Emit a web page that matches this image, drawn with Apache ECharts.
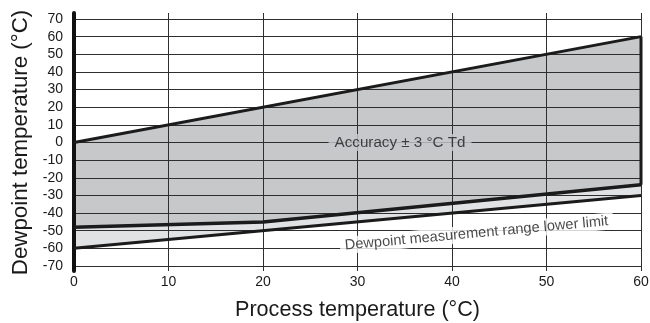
<!DOCTYPE html>
<html>
<head>
<meta charset="utf-8">
<script src="https://cdn.jsdelivr.net/npm/echarts@6/dist/echarts.min.js"></script>
<style>
  html, body { margin: 0; padding: 0; background: #fff; }
  #chart { width: 650px; height: 323px; }
</style>
</head>
<body>
<div id="chart"></div>
<script>
  // chart data (process temp °C, dewpoint °C)
  const xTicks = [0, 10, 20, 30, 40, 50, 60]
  const yTicks = [-70, -60, -50, -40, -30, -20, -10, 0, 10, 20, 30, 40, 50, 60, 70]
  const upperLine = [[0, 0], [60, 60]]
  const accuracyLower = [[0, -48], [20, -45], [60, -24]]
  const rangeLimit = [[0, -60], [60, -30]]
  const accuracyText = 'Accuracy ± 3 °C Td'
  const limitText = 'Dewpoint measurement range lower limit'

  const FONT = '"Liberation Sans", Arial, Helvetica, sans-serif'
  const LINE = '#1b1b1b'
  const GRID_LINE = '#2e2e2e'

  let myChart = echarts.init(document.getElementById('chart'), null, { renderer: 'canvas' })

  // filled band between two polylines
  function band(top, bottom, color) {
    return function(params, api) {
      let pts = top.concat(bottom.slice().reverse()).map(p => api.coord(p))
      return { type: 'polygon', shape: { points: pts }, style: { fill: color } }
    }
  }

  let option = {
    animation: false,
    backgroundColor: '#fff',
    textStyle: { fontFamily: FONT },
    grid: [
      // outer grid, only for the vertical lines that stick out a bit
      { left: 74, right: 9, top: 13, bottom: 52, outerBoundsMode: 'none' },
      { left: 74, right: 9, top: 19, bottom: 57, outerBoundsMode: 'none' }
    ],
    xAxis: [
      {
        gridIndex: 0, type: 'value', min: 0, max: 60, interval: 10, z: 3,
        axisLine: { show: false }, axisTick: { show: false }, axisLabel: { show: false },
        splitLine: { show: true, lineStyle: { color: GRID_LINE, width: 1 } }
      },
      {
        gridIndex: 1, type: 'value', min: xTicks[0], max: xTicks[xTicks.length - 1], interval: 10, z: 3,
        name: 'Process temperature (°C)',
        nameLocation: 'middle',
        nameGap: 33,
        nameTextStyle: { fontSize: 21.6, color: '#1a1a1a', fontFamily: FONT },
        axisLine: { show: false }, axisTick: { show: false },
        axisLabel: { fontSize: 14, color: '#1a1a1a', margin: 9, fontFamily: FONT },
        splitLine: { show: false }
      }
    ],
    yAxis: [
      {
        gridIndex: 0, type: 'value', min: 0, max: 1, z: 4,
        axisLine: { show: true, lineStyle: { color: '#111', width: 4 } },
        axisTick: { show: false }, axisLabel: { show: false }, splitLine: { show: false }
      },
      {
        gridIndex: 1, type: 'value', min: yTicks[0], max: yTicks[yTicks.length - 1], interval: 10, z: 3,
        name: 'Dewpoint temperature (°C)',
        nameLocation: 'middle',
        nameRotate: 90,
        nameGap: 41,
        nameTextStyle: { fontSize: 22.3, color: '#1a1a1a', fontFamily: FONT },
        axisLine: { show: false }, axisTick: { show: false },
        axisLabel: { fontSize: 14, color: '#1a1a1a', margin: 11, fontFamily: FONT },
        splitLine: { show: true, lineStyle: { color: GRID_LINE, width: 1 } }
      }
    ],
    series: [
      {
        type: 'custom', xAxisIndex: 1, yAxisIndex: 1, z: 1, silent: true,
        data: [[0, 0]],
        renderItem: band(upperLine, accuracyLower, '#c7c8ca')
      },
      {
        type: 'custom', xAxisIndex: 1, yAxisIndex: 1, z: 1, silent: true,
        data: [[0, 0]],
        renderItem: band(accuracyLower, rangeLimit, '#e1e2e4')
      },
      {
        type: 'line', xAxisIndex: 1, yAxisIndex: 1, z: 5, symbol: 'none',
        data: upperLine, lineStyle: { color: LINE, width: 3 }
      },
      {
        type: 'line', xAxisIndex: 1, yAxisIndex: 1, z: 5, symbol: 'none',
        data: accuracyLower, lineStyle: { color: LINE, width: 3.5 }
      },
      {
        type: 'line', xAxisIndex: 1, yAxisIndex: 1, z: 5, symbol: 'none',
        data: rangeLimit, lineStyle: { color: LINE, width: 3 }
      },
      {
        // right edge of the accuracy band
        type: 'line', xAxisIndex: 1, yAxisIndex: 1, z: 5, symbol: 'none',
        data: [upperLine[upperLine.length - 1], accuracyLower[accuracyLower.length - 1]],
        lineStyle: { color: LINE, width: 3 }
      },
      {
        type: 'scatter', xAxisIndex: 1, yAxisIndex: 1, z: 6, symbolSize: 0, silent: true,
        data: [[34.5, 0]],
        label: {
          show: true, position: 'inside', formatter: accuracyText,
          fontSize: 15.2, color: '#1a1a1a', fontFamily: FONT,
          backgroundColor: '#c7c8ca', padding: [1, 6]
        }
      },
      {
        type: 'scatter', xAxisIndex: 1, yAxisIndex: 1, z: 6, symbolSize: 0, silent: true,
        data: [[42.6, -51.5]],
        label: {
          show: true, position: 'inside', formatter: limitText, rotate: 5.3,
          fontSize: 14.6, color: '#1a1a1a', fontFamily: FONT,
          backgroundColor: '#fff', padding: [1, 5]
        }
      }
    ]
  }

  myChart.setOption(option)
</script>
</body>
</html>
